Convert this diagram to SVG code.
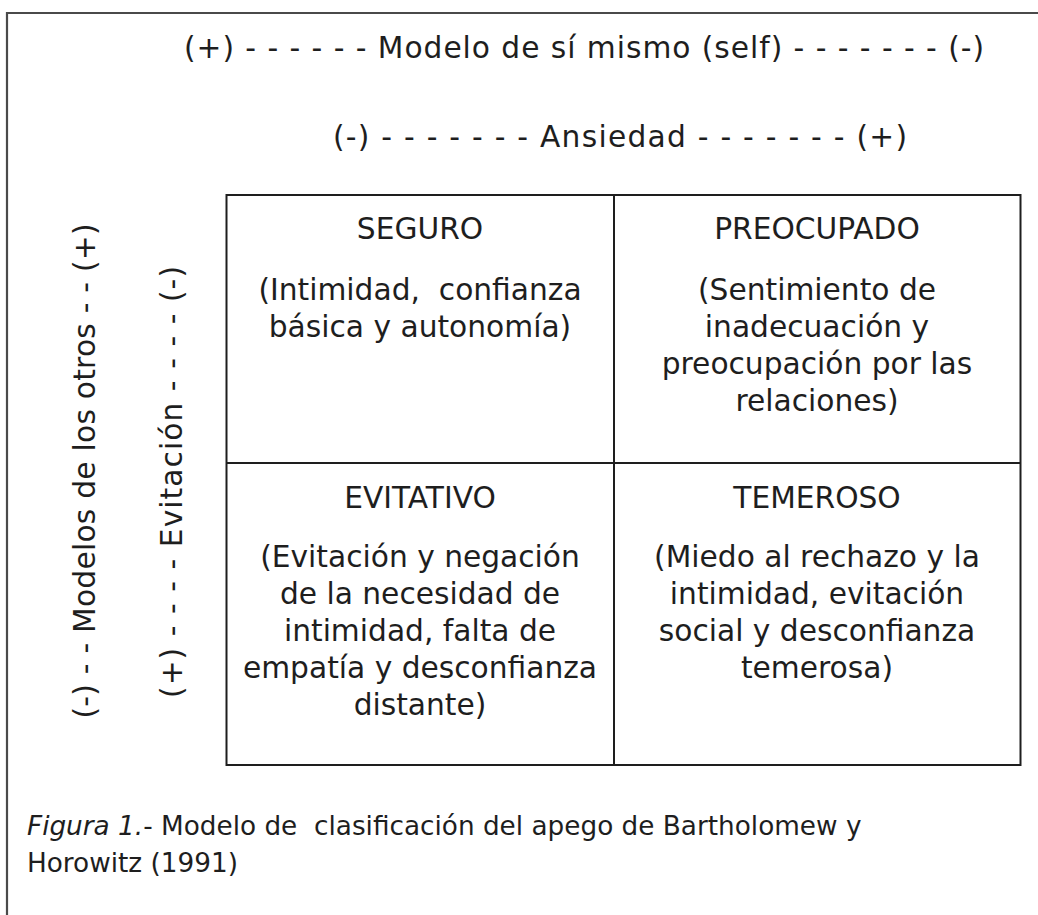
<svg xmlns="http://www.w3.org/2000/svg" width="1038" height="915" viewBox="0 0 1038 915">
<style>
text{font-family:"DejaVu Sans",Verdana,"Liberation Sans",sans-serif;font-size:29.7px;fill:#1e1e1e}
.c{text-anchor:middle}
.cap{font-size:26.3px}
.frame{fill:none;stroke:#4a4a4a;stroke-width:2.2}
.grid{fill:none;stroke:#1e1e1e;stroke-width:2}
</style>
<rect width="1038" height="915" fill="#ffffff"/>
<path class="frame" d="M7,915 V13 H1038"/>
<g id="axis-self"><text x="184" y="58" textLength="800" lengthAdjust="spacing">(+) - - - - - - Modelo de sí mismo (self) - - - - - - - (-)</text></g>
<g id="axis-ansiedad"><text x="333" y="147" textLength="574" lengthAdjust="spacing">(-) - - - - - - - Ansiedad - - - - - - - (+)</text></g>
<g id="axis-otros"><text class="c" transform="translate(95,471) rotate(-90)" textLength="495" lengthAdjust="spacing">(-) - - Modelos de los otros - - (+)</text></g>
<g id="axis-evitacion"><text class="c" transform="translate(182,482) rotate(-90)" textLength="432" lengthAdjust="spacing">(+) - - - - Evitación - - - - (-)</text></g>
<g id="connectors">
<rect class="grid" x="226.5" y="195" width="794" height="570"/>
<line class="grid" x1="614" y1="195" x2="614" y2="765"/>
<line class="grid" x1="226.5" y1="463" x2="1020.5" y2="463"/>
</g>
<g id="seguro">
<text class="c" x="420" y="239">SEGURO</text>
<text class="c" x="420" y="300" xml:space="preserve">(Intimidad,  confianza</text>
<text class="c" x="420" y="337">básica y autonomía)</text>
</g>
<g id="preocupado">
<text class="c" x="817" y="239">PREOCUPADO</text>
<text class="c" x="817" y="300">(Sentimiento de</text>
<text class="c" x="817" y="337">inadecuación y</text>
<text class="c" x="817" y="374">preocupación por las</text>
<text class="c" x="817" y="411">relaciones)</text>
</g>
<g id="evitativo">
<text class="c" x="420" y="508">EVITATIVO</text>
<text class="c" x="420" y="567">(Evitación y negación</text>
<text class="c" x="420" y="604">de la necesidad de</text>
<text class="c" x="420" y="641">intimidad, falta de</text>
<text class="c" x="420" y="678">empatía y desconfianza</text>
<text class="c" x="420" y="715">distante)</text>
</g>
<g id="temeroso">
<text class="c" x="817" y="508">TEMEROSO</text>
<text class="c" x="817" y="567">(Miedo al rechazo y la</text>
<text class="c" x="817" y="604">intimidad, evitación</text>
<text class="c" x="817" y="641">social y desconfianza</text>
<text class="c" x="817" y="678">temerosa)</text>
</g>
<g id="caption">
<text class="cap" x="27" y="835" xml:space="preserve"><tspan font-style="italic">Figura 1.</tspan>- Modelo de  clasificación del apego de Bartholomew y</text>
<text class="cap" x="27" y="872">Horowitz (1991)</text>
</g>
</svg>
